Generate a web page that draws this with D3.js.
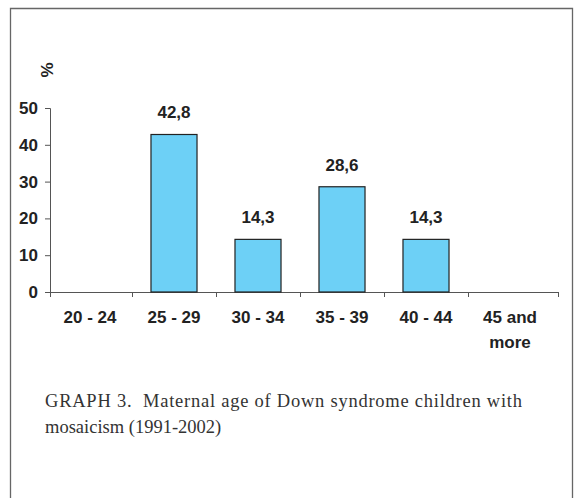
<!DOCTYPE html>
<html>
<head>
<meta charset="utf-8">
<script src="https://cdn.jsdelivr.net/npm/d3@7"></script>
<style>
  body { margin: 0; background: #fff; }
</style>
</head>
<body>
<svg id="chart"></svg>
<script>
const categories = ["20 - 24", "25 - 29", "30 - 34", "35 - 39", "40 - 44", "45 and|more"];
const values = [null, 42.8, 14.3, 28.6, 14.3, null];
const valueLabels = ["", "42,8", "14,3", "28,6", "14,3", ""];
const yTicks = [0, 10, 20, 30, 40, 50];
const captionLines = ["GRAPH 3.  Maternal age of Down syndrome children with", "mosaicism (1991-2002)"];

const W = 574, H = 498;
const svg = d3.select("#chart").attr("width", W).attr("height", H);

// frame (open at the bottom)
svg.append("path")
    .attr("d", `M10.5,${H} V8.5 H572.5 V${H}`)
    .attr("fill", "none")
    .attr("stroke", "#666")
    .attr("stroke-width", 1.3);

const xAxisScale = d3.scaleBand().domain(categories).range([48, 552]);
const x = d3.scaleBand().domain(categories).range([48, 552]).paddingInner(0.452).paddingOuter(0.226);
const y = d3.scaleLinear().domain([0, 50]).range([292, 108]);

const font = "'Liberation Sans', Arial, sans-serif";
const fs = "17px";

// y axis
const yAxis = svg.append("g")
    .attr("transform", "translate(50,0)")
    .call(d3.axisLeft(y).tickValues(yTicks).tickSize(5).tickPadding(7));
yAxis.select(".domain").attr("stroke", "#555");
yAxis.selectAll(".tick line").attr("stroke", "#555");
yAxis.selectAll("text")
    .attr("fill", "#222")
    .style("font-family", font)
    .style("font-size", fs)
    .style("font-weight", "bold");

// x axis
const xAxis = svg.append("g").attr("transform", "translate(0,292)");
xAxis.append("path").attr("d", "M50,0.5H558").attr("stroke", "#555");
const tickXs = categories.slice(1).map(c => xAxisScale(c)).concat([50, 558]);
xAxis.selectAll(".xtick")
    .data(tickXs)
    .enter().append("line")
    .attr("class", "xtick")
    .attr("x1", d => Math.round(d) + 0.5)
    .attr("x2", d => Math.round(d) + 0.5)
    .attr("y1", 0).attr("y2", 5)
    .attr("stroke", "#555");

svg.selectAll(".xlabel")
    .data(categories)
    .enter().append("text")
    .attr("class", "xlabel")
    .attr("y", 323)
    .attr("text-anchor", "middle")
    .attr("fill", "#222")
    .style("font-family", font)
    .style("font-size", fs)
    .style("font-weight", "bold")
    .each(function(d) {
        const cx = xAxisScale(d) + xAxisScale.bandwidth() / 2;
        d3.select(this).selectAll("tspan")
            .data(d.split("|"))
            .enter().append("tspan")
            .attr("x", cx)
            .attr("dy", (p, i) => i === 0 ? 0 : 25)
            .text(p => p);
    });

// bars
const barData = categories.map((c, i) => ({ c, v: values[i], label: valueLabels[i] })).filter(d => d.v != null);

svg.selectAll(".bar")
    .data(barData)
    .enter().append("rect")
    .attr("class", "bar")
    .attr("x", d => x(d.c))
    .attr("y", d => y(d.v))
    .attr("width", x.bandwidth())
    .attr("height", d => y(0) - y(d.v))
    .attr("fill", "#6dd0f6")
    .attr("stroke", "#222")
    .attr("stroke-width", 1.2);

svg.selectAll(".vlabel")
    .data(barData)
    .enter().append("text")
    .attr("class", "vlabel")
    .attr("x", d => x(d.c) + x.bandwidth() / 2)
    .attr("y", d => y(d.v) - 16)
    .attr("text-anchor", "middle")
    .attr("fill", "#222")
    .style("font-family", font)
    .style("font-size", fs)
    .style("font-weight", "bold")
    .text(d => d.label);

// y unit
svg.append("text")
    .attr("transform", "translate(53,70) rotate(-90)")
    .attr("text-anchor", "middle")
    .attr("fill", "#222")
    .style("font-family", font)
    .style("font-size", fs)
    .style("font-weight", "bold")
    .text("%");

// caption
svg.selectAll(".caption")
    .data(captionLines)
    .enter().append("text")
    .attr("class", "caption")
    .attr("x", 45)
    .attr("y", (d, i) => 407 + i * 26)
    .attr("fill", "#333")
    .style("font-family", "'Liberation Serif', 'Times New Roman', serif")
    .style("font-size", "18.5px")
    .style("white-space", "pre")
    .attr("textLength", (d, i) => i === 0 ? 477 : null)
    .attr("lengthAdjust", "spacing")
    .text(d => d);
</script>
</body>
</html>
